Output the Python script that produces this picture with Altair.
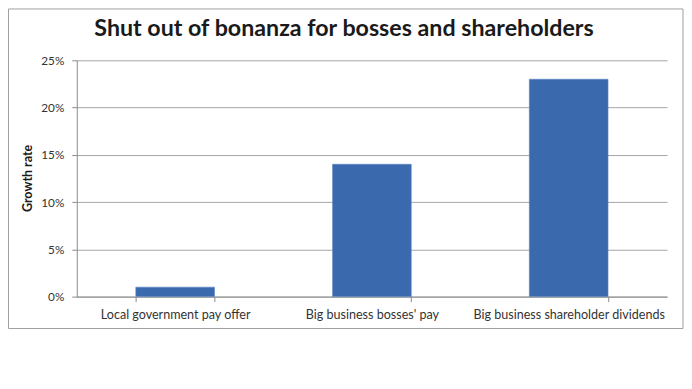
import altair as alt
import pandas as pd

categories = ["Local government pay offer", "Big business bosses' pay", "Big business shareholder dividends"]
growth = [0.01, 0.14, 0.23]
y_ticks = [0, 0.05, 0.10, 0.15, 0.20, 0.25]

df = pd.DataFrame({"category": categories, "growth": growth})
FONT = "Lato"

bars = alt.Chart(df).mark_bar(color="#3a69ae", stroke="#5a86c4", strokeWidth=0.6).encode(
    x=alt.X("category:N", sort=categories, title=None,
            scale=alt.Scale(paddingInner=0.6, paddingOuter=0.3),
            axis=alt.Axis(labelAngle=0, tickBand="extent", tickSize=5, labelPadding=7,
                          labelFontSize=12.6, labelColor="#333333", labelFont=FONT,
                          labelLimit=0,
                          domainColor="#8c8c8c", tickColor="#8c8c8c", grid=False)),
    y=alt.Y("growth:Q", title="Growth rate",
            scale=alt.Scale(domain=[0, 0.25], nice=False),
            axis=alt.Axis(values=y_ticks, format=".0%", tickSize=5, labelPadding=8,
                          labelFontSize=11.8, labelColor="#333333", labelFont=FONT,
                          domainColor="#8c8c8c", tickColor="#8c8c8c",
                          gridColor="#a6a6a6", gridWidth=1,
                          titleFont=FONT, titleFontSize=12.5, titleFontWeight="bold",
                          titleColor="#1a1a1a", titleX=-49, titleY=118,
                          titleBaseline="middle", titleAngle=270)),
)

border = alt.Chart(pd.DataFrame({"a": [0]})).mark_rect(
    filled=False, stroke="#a0a0a0", strokeWidth=1
).encode(
    x=alt.value(-68.5), x2=alt.value(608), y=alt.value(-51.5), y2=alt.value(269)
)

chart = alt.layer(border, bars).properties(
    width=592, height=237,
    autosize=alt.AutoSizeParams(type="none"),
    padding={"left": 69, "top": 52, "right": 17, "bottom": 33},
    title=alt.TitleParams("Shut out of bonanza for bosses and shareholders",
                          font=FONT, fontSize=23.3, fontWeight="bold", color="#1a1a1a",
                          anchor="middle", dx=-28, offset=-50.5, baseline="alphabetic"),
).configure_view(stroke=None)

chart.save("out.html", embed_options={"renderer": "svg", "actions": False})
